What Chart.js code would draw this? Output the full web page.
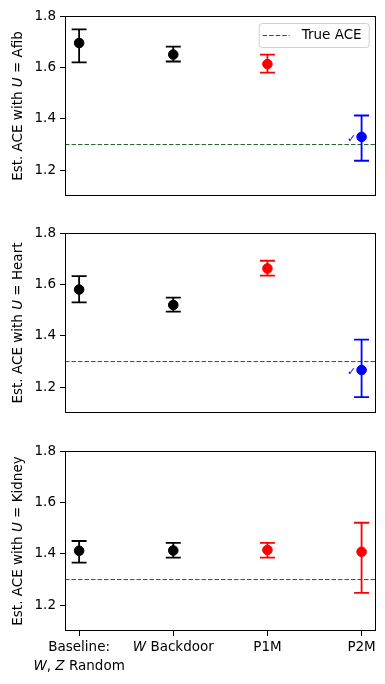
<!DOCTYPE html>
<html>
<head>
<meta charset="utf-8">
<script src="https://cdn.jsdelivr.net/npm/chart.js@4.4.0/dist/chart.umd.min.js"></script>
<style>
    body { margin: 0; background: #fff; width: 385px; height: 684px; position: relative; overflow: hidden; }
    canvas { position: absolute; left: 0; }
</style>
</head>
<body>
<canvas id="afibChart" width="385" height="215" style="top:0"></canvas>
<canvas id="heartChart" width="385" height="215" style="top:217px"></canvas>
<canvas id="kidneyChart" width="385" height="250" style="top:434px"></canvas>
<script>
// Data ($...$ marks italic text, like matplotlib mathtext)
const categories = ['Baseline:\n$W$, $Z$ Random', '$W$ Backdoor', 'P1M', 'P2M'];
const yTicks = [1.2, 1.4, 1.6, 1.8];
const yMin = 1.1, yMax = 1.8;
const xMin = -0.15, xMax = 3.15;
const trueAce = 1.3;

const afibEst = [1.695, 1.650, 1.613, 1.330];
const afibLo = [1.620, 1.623, 1.580, 1.237];
const afibHi = [1.748, 1.681, 1.650, 1.413];
const afibColors = ['black', 'black', 'red', 'blue'];
const afibCheck = [false, false, false, true];

const heartEst = [1.580, 1.520, 1.662, 1.267];
const heartLo = [1.530, 1.494, 1.634, 1.162];
const heartHi = [1.632, 1.549, 1.692, 1.385];
const heartColors = ['black', 'black', 'red', 'blue'];
const heartCheck = [false, false, false, true];

const kidneyEst = [1.412, 1.413, 1.415, 1.408];
const kidneyLo = [1.366, 1.385, 1.385, 1.248];
const kidneyHi = [1.450, 1.443, 1.443, 1.521];
const kidneyColors = ['black', 'black', 'red', 'red'];
const kidneyCheck = [false, false, false, false];

const FONT = '"DejaVu Sans", sans-serif';
const FONT_SIZE = 13.5;

// Rich text helpers
function parseRich(str) {
    return str.split('$').map((t, i) => ({ text: t, italic: i % 2 === 1 })).filter(s => s.text);
}
function fontOf(seg, size) {
    return (seg.italic ? 'italic ' : '') + size + 'px ' + FONT;
}
function drawRich(ctx, str, x, y, size) {
    const segs = parseRich(str);
    let w = 0;
    segs.forEach(s => { ctx.font = fontOf(s, size); w += ctx.measureText(s.text).width; });
    let cx = x - w / 2;
    ctx.textAlign = 'left';
    ctx.textBaseline = 'middle';
    segs.forEach(s => {
        ctx.font = fontOf(s, size);
        ctx.fillText(s.text, cx, y);
        cx += ctx.measureText(s.text).width;
    });
}

// Frame, y title, x labels, check marks, legend
const decorPlugin = {
    id: 'decor',
    afterDraw(chart, args, opts) {
        const { ctx, chartArea: a, scales: { x, y } } = chart;
        ctx.save();
        ctx.strokeStyle = '#000';
        ctx.lineWidth = 1;
        ctx.strokeRect(Math.round(a.left) + 0.5, Math.round(a.top) + 0.5,
            Math.round(a.right - a.left) - 1, Math.round(a.bottom - a.top) - 1);

        ctx.fillStyle = '#000';
        ctx.save();
        ctx.translate(18, (a.top + a.bottom) / 2);
        ctx.rotate(-Math.PI / 2);
        drawRich(ctx, opts.yTitle, 0, 0, FONT_SIZE);
        ctx.restore();

        if (opts.xLabels) {
            categories.forEach((c, i) => {
                c.split('\n').forEach((line, j) => {
                    drawRich(ctx, line, x.getPixelForValue(i), a.bottom + 16 + j * 19, FONT_SIZE);
                });
            });
        }

        opts.checks.forEach((on, i) => {
            if (!on) return;
            ctx.fillStyle = opts.colors[i];
            ctx.font = '11px ' + FONT;
            ctx.textAlign = 'center';
            ctx.textBaseline = 'middle';
            ctx.fillText('\u2713', x.getPixelForValue(i) - 10, y.getPixelForValue(opts.est[i]) + 2);
        });

        if (opts.legend) {
            const bx = a.right - 117, by = a.top + 7, bw = 110, bh = 24;
            ctx.fillStyle = 'rgba(255,255,255,0.8)';
            ctx.strokeStyle = '#d0d0d0';
            ctx.beginPath();
            ctx.roundRect(bx + 0.5, by + 0.5, bw, bh, 3);
            ctx.fill();
            ctx.stroke();
            ctx.strokeStyle = '#1f5f1f';
            ctx.setLineDash([4.5, 2]);
            ctx.beginPath();
            ctx.moveTo(bx + 4, by + 12.5);
            ctx.lineTo(bx + 31, by + 12.5);
            ctx.stroke();
            ctx.setLineDash([]);
            ctx.fillStyle = '#000';
            ctx.font = FONT_SIZE + 'px ' + FONT;
            ctx.textAlign = 'left';
            ctx.textBaseline = 'middle';
            ctx.fillText('True ACE', bx + 43, by + 12.5);
        }
        ctx.restore();
    }
};

function makePanel(canvasId, unit, est, lo, hi, colors, checks, showLegend, showX) {
    const datasets = [];
    datasets.push({
        label: 'estimate',
        data: est.map((v, i) => ({ x: i, y: v })),
        pointBackgroundColor: colors,
        pointBorderColor: colors,
        pointRadius: 4.8,
        order: 0
    });
    datasets.push({
        label: 'caps',
        data: est.flatMap((v, i) => [{ x: i, y: lo[i] }, { x: i, y: hi[i] }]),
        pointStyle: 'line',
        pointRadius: 7.5,
        pointBorderWidth: 1.8,
        pointBorderColor: colors.flatMap(c => [c, c]),
        order: 1
    });
    est.forEach((v, i) => {
        datasets.push({
            label: 'err' + i,
            data: [{ x: i, y: lo[i] }, { x: i, y: hi[i] }],
            showLine: true,
            borderColor: colors[i],
            borderWidth: 1.8,
            pointRadius: 0,
            order: 2
        });
    });
    datasets.push({
        label: 'True ACE',
        data: [{ x: xMin, y: trueAce }, { x: xMax, y: trueAce }],
        showLine: true,
        borderColor: '#1f5f1f',
        borderWidth: 1,
        borderDash: [4.5, 2],
        pointRadius: 0,
        order: 3
    });

    const xScale = {
        type: 'linear',
        display: showX,
        min: xMin,
        max: xMax,
        afterBuildTicks: s => { s.ticks = categories.map((c, i) => ({ value: i })); },
        ticks: { callback: () => '', autoSkip: false },
        grid: { drawOnChartArea: false, drawTicks: true, tickLength: 5, color: '#000' },
        border: { display: false }
    };
    if (showX) xScale.afterFit = s => { s.height = 53; };

    return new Chart(document.getElementById(canvasId), {
        type: 'scatter',
        data: { datasets },
        plugins: [decorPlugin],
        options: {
            responsive: false,
            animation: false,
            devicePixelRatio: 1,
            layout: {
                padding: showX ? { top: 17, right: 9, bottom: 0, left: 0 } : { top: 16, right: 9, bottom: 19, left: 0 }
            },
            plugins: {
                legend: { display: false },
                tooltip: { enabled: false },
                decor: {
                    yTitle: 'Est. ACE with $U$ = ' + unit,
                    xLabels: showX,
                    legend: showLegend,
                    checks: checks,
                    colors: colors,
                    est: est
                }
            },
            scales: {
                x: xScale,
                y: {
                    min: yMin,
                    max: yMax,
                    afterBuildTicks: s => { s.ticks = yTicks.map(v => ({ value: v })); },
                    afterFit: s => { s.width = 65; },
                    ticks: {
                        callback: v => v.toFixed(1),
                        color: '#000',
                        padding: 4,
                        font: { family: FONT, size: FONT_SIZE }
                    },
                    grid: { drawOnChartArea: false, drawTicks: true, tickLength: 5, color: '#000' },
                    border: { display: false }
                }
            }
        }
    });
}

const afibChart = makePanel('afibChart', 'Afib', afibEst, afibLo, afibHi, afibColors, afibCheck, true, false);
const heartChart = makePanel('heartChart', 'Heart', heartEst, heartLo, heartHi, heartColors, heartCheck, false, false);
const kidneyChart = makePanel('kidneyChart', 'Kidney', kidneyEst, kidneyLo, kidneyHi, kidneyColors, kidneyCheck, false, true);
</script>
</body>
</html>
